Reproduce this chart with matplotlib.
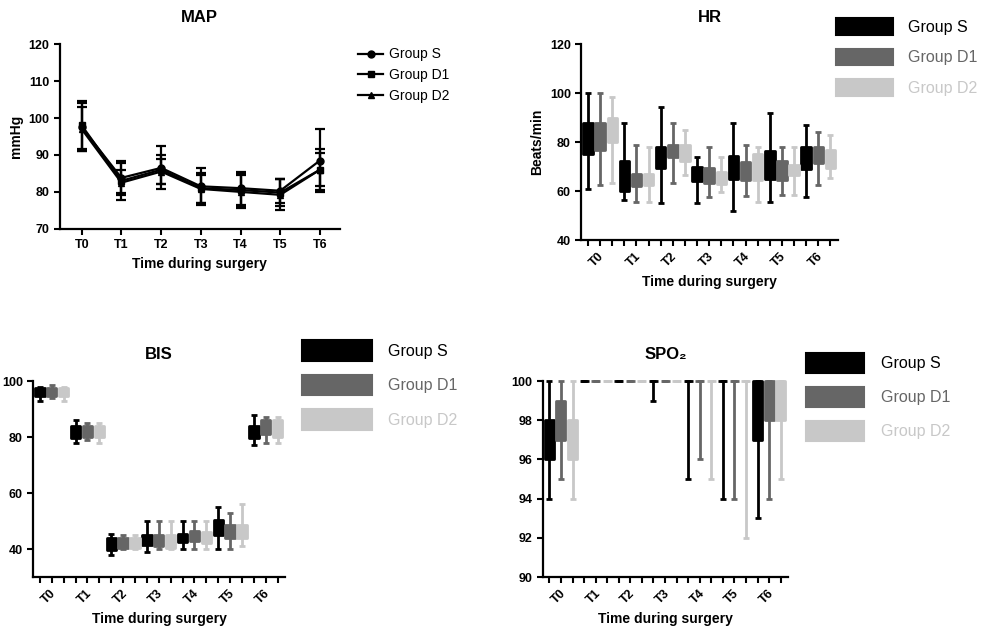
import numpy as np
import matplotlib
matplotlib.use("Agg")
import matplotlib.pyplot as plt

plt.rcParams['font.family'] = ['Liberation Sans', 'DejaVu Sans']

times = ["T0", "T1", "T2", "T3", "T4", "T5", "T6"]
groups = ["Group S", "Group D1", "Group D2"]
colors = ["#000000", "#666666", "#c8c8c8"]

# MAP, mean and SD per time point
map_S = [97.5, 83.8, 86.5, 81.5, 81.0, 80.3, 88.5]
map_S_sd = [6.5, 4.0, 5.8, 5.0, 4.5, 3.2, 8.5]
map_D1 = [98.0, 83.0, 86.0, 81.0, 80.5, 79.8, 86.0]
map_D1_sd = [6.5, 5.3, 4.0, 4.0, 4.5, 3.7, 4.5]
map_D2 = [97.0, 82.5, 85.5, 80.8, 80.0, 79.2, 86.0]
map_D2_sd = [6.0, 3.3, 3.5, 3.7, 4.5, 4.2, 5.5]

# box plots: (min, q1, q3, max) per time point
hr_S = [(61, 75, 88, 100), (56.5, 60, 72.5, 88), (55, 69.5, 78, 94.5), (55, 64, 70, 74),
        (52, 65, 74.5, 88), (55.5, 65, 76.5, 92), (57.5, 69, 78, 87)]
hr_D1 = [(62.5, 77, 88, 100), (55.5, 62, 67, 79), (63.5, 74, 79, 88), (57.5, 63.5, 69.5, 78),
         (58, 64.5, 72, 79), (58.5, 64.5, 72.5, 78), (62.5, 71.5, 78, 84)]
hr_D2 = [(63.5, 80, 90, 98.5), (55.5, 62.5, 67, 78), (66.5, 72.5, 79, 85), (59.5, 63, 68, 74),
         (55.5, 64.5, 75, 78), (58.5, 66.5, 70.5, 78), (65.5, 69.5, 77, 83)]

bis_S = [(93, 94.5, 97.5, 98), (78, 79.5, 84, 86), (38, 39.5, 44, 45.5), (39, 41.5, 45, 50),
         (40, 42.5, 45.5, 50), (40, 45, 50.5, 55), (77, 79.5, 84, 88)]
bis_D1 = [(94, 94.5, 97.5, 98.5), (79, 80, 84, 85), (40, 40.5, 44, 45), (40, 41, 45, 50),
          (40, 43, 46.5, 50), (40, 44, 48.5, 53), (78, 81, 86, 87)]
bis_D2 = [(93, 94.5, 97.5, 98), (78, 80, 84, 85), (40, 40.5, 44, 45), (40, 40.5, 45, 50),
          (40, 42, 46, 50), (41, 44, 48.5, 56), (78, 80, 86, 87)]

spo2_S = [(94, 96, 98, 100), (100, 100, 100, 100), (100, 100, 100, 100), (99, 100, 100, 100),
          (95, 100, 100, 100), (94, 100, 100, 100), (93, 97, 100, 100)]
spo2_D1 = [(95, 97, 99, 100), (100, 100, 100, 100), (100, 100, 100, 100), (100, 100, 100, 100),
           (96, 100, 100, 100), (94, 100, 100, 100), (94, 98, 100, 100)]
spo2_D2 = [(94, 96, 98, 100), (100, 100, 100, 100), (100, 100, 100, 100), (100, 100, 100, 100),
           (95, 100, 100, 100), (92, 100, 100, 100), (95, 98, 100, 100)]


def style_axes(ax):
    for s in ['top', 'right']:
        ax.spines[s].set_visible(False)
    for s in ['left', 'bottom']:
        ax.spines[s].set_linewidth(1.6)
    ax.tick_params(direction='out', length=4, width=1.5, labelsize=9)
    for lab in ax.get_xticklabels() + ax.get_yticklabels():
        lab.set_fontweight('bold')


def draw_boxes(ax, data):
    for g, stats in enumerate(data):
        col = colors[g]
        pos = np.arange(len(stats)) * 3 + g
        lo, q1, q3, hi = np.array(stats, dtype=float).T
        ax.vlines(pos, lo, hi, color=col, lw=2, zorder=2, clip_on=False)
        ax.plot(pos, lo, ls='none', marker='_', ms=4, mew=2, color=col, zorder=2, clip_on=False)
        ax.plot(pos, hi, ls='none', marker='_', ms=4, mew=2, color=col, zorder=2, clip_on=False)
        bars = ax.bar(pos, q3 - q1, bottom=q1, width=0.78, color=col, edgecolor=col,
                      lw=2, zorder=3, clip_on=False)
        for b in bars:
            b.set_joinstyle('round')
    ax.set_xlim(-0.55, 20.6)
    ax.set_xticks(range(21))
    labels = []
    for i in range(21):
        labels.append(times[i // 3] if i % 3 == 0 else "")
    ax.set_xticklabels(labels, rotation=45, ha='left', va='top')
    ax.set_xlabel("Time during surgery", fontsize=10, fontweight='bold')


def box_legend(ax, anchor, hl, hh, pad):
    handles = [plt.Rectangle((0, 0), 1, 1, fc=c, ec=c, lw=1.5, joinstyle='round') for c in colors]
    leg = ax.legend(handles, groups, loc='upper left', bbox_to_anchor=anchor,
                    bbox_transform=fig.transFigure, frameon=False, fontsize=11.5,
                    handlelength=hl, handleheight=hh, labelspacing=0.875,
                    handletextpad=pad, borderpad=0, borderaxespad=0)
    for t, c in zip(leg.get_texts(), colors):
        t.set_color(c)


fig = plt.figure(figsize=(9.82, 6.32), dpi=100)

# MAP
ax1 = fig.add_axes([0.061, 0.638, 0.285, 0.292])
x = np.arange(len(times))
for vals, sd, mk, lab in [(map_S, map_S_sd, 'o', groups[0]),
                          (map_D1, map_D1_sd, 's', groups[1]),
                          (map_D2, map_D2_sd, '^', groups[2])]:
    ax1.errorbar(x, vals, yerr=sd, color='black', lw=1.6, marker=mk, ms=5,
                 capsize=3.5, capthick=1.6, elinewidth=1.6, label=lab)
ax1.set_xlim(-0.55, 6.5)
ax1.set_ylim(70, 120)
ax1.set_yticks(range(70, 121, 10))
ax1.set_xticks(x)
ax1.set_xticklabels(times)
ax1.set_ylabel("mmHg", fontsize=10, fontweight='bold')
ax1.set_xlabel("Time during surgery", fontsize=10, fontweight='bold')
ax1.set_title("MAP", fontsize=12, fontweight='bold', pad=16)
style_axes(ax1)
h, l = ax1.get_legend_handles_labels()
h = [hh[0] for hh in h]
ax1.legend(h, l, loc='upper left', bbox_to_anchor=(0.365, 0.925), bbox_transform=fig.transFigure,
           frameon=False, fontsize=10, handlelength=1.8, handletextpad=0.4,
           labelspacing=0.5, borderpad=0, borderaxespad=0)

# HR
ax2 = fig.add_axes([0.592, 0.620, 0.261, 0.310])
draw_boxes(ax2, [hr_S, hr_D1, hr_D2])
ax2.set_ylim(40, 120)
ax2.set_yticks(range(40, 121, 20))
ax2.set_ylabel("Beats/min", fontsize=10, fontweight='bold')
ax2.set_title("HR", fontsize=12, fontweight='bold', pad=16)
style_axes(ax2)
box_legend(ax2, (0.851, 0.972), 3.6, 1.25, 0.9)

# BIS
ax3 = fig.add_axes([0.034, 0.087, 0.256, 0.310])
draw_boxes(ax3, [bis_S, bis_D1, bis_D2])
ax3.set_ylim(30, 100)
ax3.set_yticks(range(40, 101, 20))
ax3.set_title("BIS", fontsize=12, fontweight='bold', pad=16)
style_axes(ax3)
box_legend(ax3, (0.3075, 0.462), 4.4, 1.6, 1.0)

# SPO2
ax4 = fig.add_axes([0.553, 0.087, 0.249, 0.310])
draw_boxes(ax4, [spo2_S, spo2_D1, spo2_D2])
ax4.set_ylim(90, 100)
ax4.set_yticks(range(90, 101, 2))
ax4.set_title("SPO₂", fontsize=12, fontweight='bold', pad=16)
style_axes(ax4)
box_legend(ax4, (0.821, 0.442), 3.6, 1.55, 1.1)

fig.savefig("out.png", dpi=100)
